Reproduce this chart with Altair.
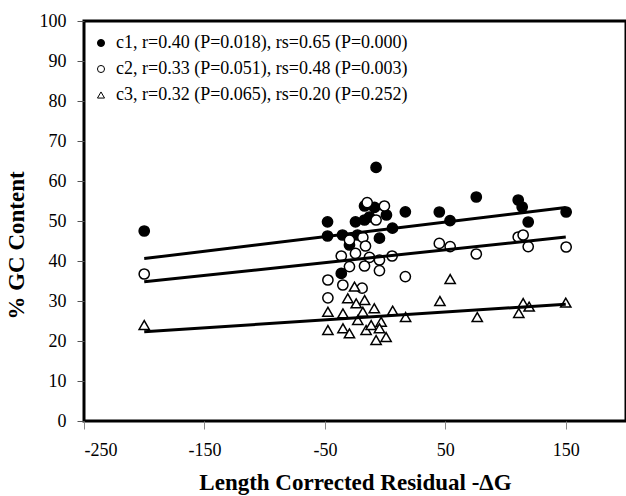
import altair as alt
import pandas as pd

FONT = "Liberation Serif"

series_labels = [
    "c1, r=0.40 (P=0.018), rs=0.65 (P=0.000)",
    "c2, r=0.33 (P=0.051), rs=0.48 (P=0.003)",
    "c3, r=0.32 (P=0.065), rs=0.20 (P=0.252)",
]

c1_x = [-200, -47.8, -47.8, -36.4, -35.4, -29.6, -24.6, -22.9, -17.1, -17.1, -13, -8.8,
        -7.5, -4.7, 1.1, 6.1, 16.8, 45, 53.9, 75.7, 110.5, 113.8, 118.8, 150.3]
c1_y = [47.5, 49.8, 46.25, 36.9, 46.5, 44, 49.8, 46.5, 53.75, 50.25, 51, 53.4,
        63.4, 45.7, 51.5, 48.2, 52.3, 52.25, 50.1, 56, 55.25, 53.5, 49.75, 52.25]

c2_x = [-200, -14.9, -0.6, -7.5, -29.6, -18.5, -16.3, -24.6, -36.4, -13, -4.7, 5.8,
        -17.1, -29.6, -4.7, -47.5, -35.1, -19.1, -47.5, 16.8, 45, 54, 75.7, 110.5,
        114.6, 118.8, 150.3]
c2_y = [36.75, 54.6, 53.75, 50.25, 45.25, 45.9, 43.75, 41.9, 41.25, 40.9, 40.25, 41.25,
        38.75, 38.6, 37.6, 35.25, 34, 33.2, 30.8, 36.1, 44.4, 43.6, 41.75, 46,
        46.5, 43.6, 43.5]

c3_x = [-200, -25.4, -31, -17, -24, -47.5, -35, -9, 6.3, -18.5, 17,
        -47.5, -35, -29.6, -22.7, -15.8, -11.6, -3.3, -7.5, 0.8, -4.7,
        54, 45.5, 76.5, 111, 114.6, 119.6, 150]
c3_y = [24, 33.6, 30.7, 30.25, 29.4, 27.3, 26.9, 28.2, 27.6, 27.3, 26,
        22.75, 23.2, 21.9, 25.25, 22.75, 24, 24.8, 20.25, 21, 23.2,
        35.5, 30, 26, 27, 29.5, 28.6, 29.6]

fit_x = [-200, 150]
c1_fit_y = [40.6, 53.4]
c2_fit_y = [34.8, 46.0]
c3_fit_y = [22.3, 29.2]

x_ticks = [-250, -150, -50, 50, 150]
y_ticks = [0, 10, 20, 30, 40, 50, 60, 70, 80, 90, 100]

rows = []
for lab, xs, ys in zip(series_labels, [c1_x, c2_x, c3_x], [c1_y, c2_y, c3_y]):
    for xv, yv in zip(xs, ys):
        rows.append({"series": lab, "x": xv, "y": yv})
pts = pd.DataFrame(rows)

frows = []
for lab, ys in zip(series_labels, [c1_fit_y, c2_fit_y, c3_fit_y]):
    for xv, yv in zip(fit_x, ys):
        frows.append({"series": lab, "x": xv, "y": yv})
fits = pd.DataFrame(frows)

xaxis = alt.Axis(values=x_ticks, title="Length Corrected Residual -ΔG",
                 labelExpr="replace(datum.label, '−', '-')",
                 tickColor="#888888", tickSize=8, labelPadding=12,
                 titlePadding=12, labelOverlap=False)
yaxis = alt.Axis(values=y_ticks, tickCount=11, title="% GC Content", tickColor="#555555",
                 tickSize=7, labelPadding=11, titlePadding=11,
                 labelOverlap=False, titleY=224)
xscale = alt.Scale(domain=[-250, 200], nice=False, zero=False)
yscale = alt.Scale(domain=[0, 100], nice=False)

leg = alt.Legend(title=None, orient="none", legendX=8, legendY=13, symbolSize=50,
                 symbolStrokeWidth=1, symbolStrokeColor="black", labelFont=FONT,
                 labelFontSize=18, labelColor="black", rowPadding=8, labelOffset=6,
                 padding=0, labelLimit=0)

points = alt.Chart(pts).mark_point(size=105, stroke="black", strokeWidth=1.5,
                                   opacity=1, filled=False).encode(
    x=alt.X("x:Q", scale=xscale, axis=xaxis),
    y=alt.Y("y:Q", scale=yscale, axis=yaxis),
    shape=alt.Shape("series:N", scale=alt.Scale(domain=series_labels,
                    range=["circle", "circle", "triangle-up"]), legend=leg),
    fill=alt.Fill("series:N", scale=alt.Scale(domain=series_labels,
                  range=["black", "white", "white"]), legend=leg),
    stroke=alt.Stroke("series:N", scale=alt.Scale(domain=series_labels,
                      range=["black", "black", "black"]), legend=leg),
)

lines = alt.Chart(fits).mark_line(color="black", strokeWidth=3).encode(
    x=alt.X("x:Q", scale=xscale, axis=xaxis),
    y=alt.Y("y:Q", scale=yscale, axis=yaxis),
    detail="series:N")

chart = alt.layer(points, lines).properties(
    width=542, height=400, autosize="none",
    padding={"left": 84, "top": 21, "right": 0, "bottom": 75},
).configure_view(stroke="black", strokeWidth=3).configure_axis(
    domain=False, grid=False, labelFont=FONT, labelFontSize=18, labelColor="black",
    titleFont=FONT, titleFontSize=23, titleFontWeight="bold", titleColor="black",
)

chart.save("out.html", embed_options={"renderer": "svg", "actions": False})
